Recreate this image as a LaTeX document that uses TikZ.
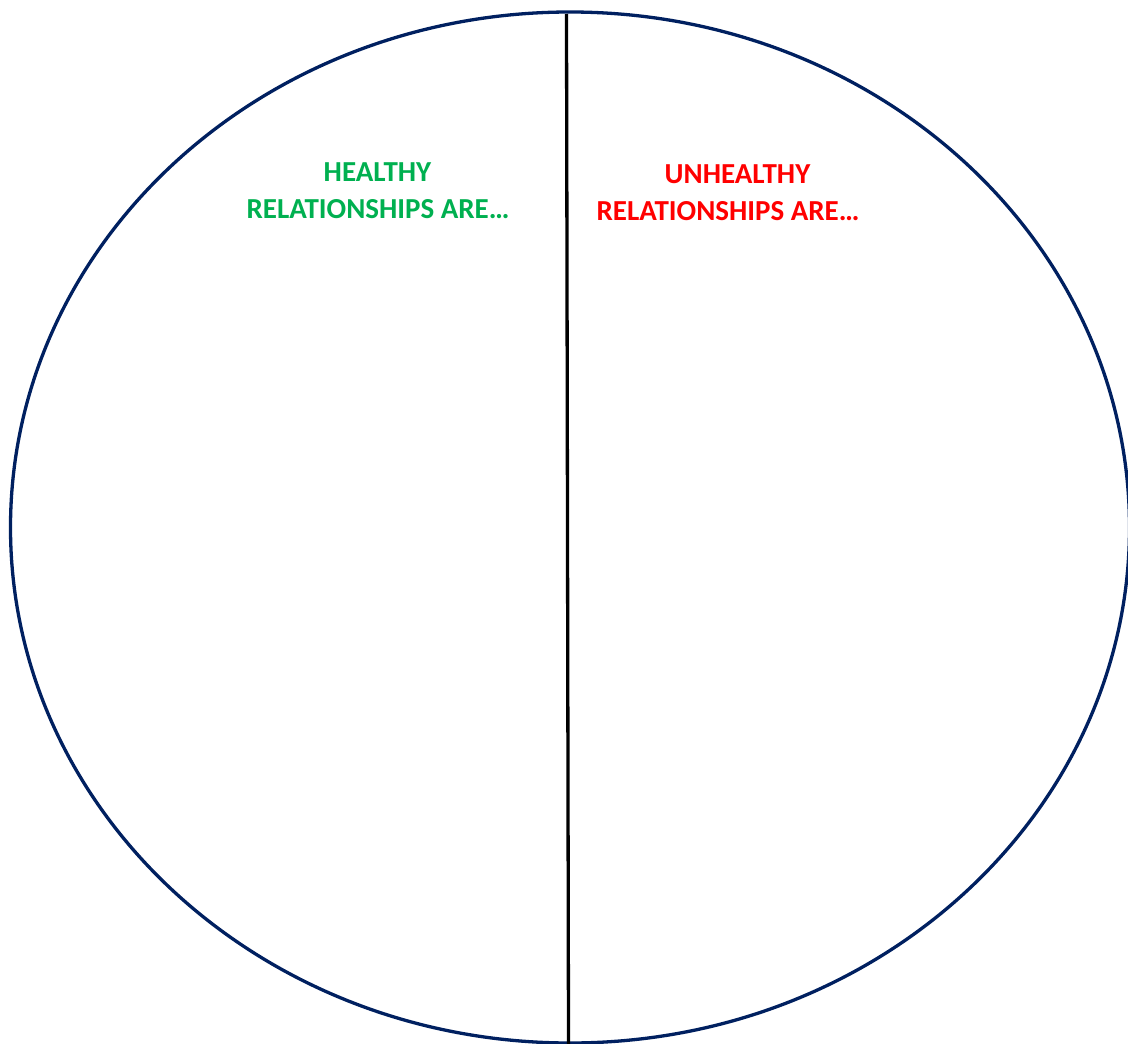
\documentclass[tikz,border=0pt]{standalone}
\usepackage{fontspec}
\setmainfont{Carlito}
\definecolor{ringblue}{RGB}{0,32,96}
\definecolor{goodgreen}{RGB}{0,176,80}
\definecolor{badred}{RGB}{255,0,0}
\tikzset{
  headtext/.style={font=\fontsize{29}{35}\selectfont\bfseries, inner sep=0pt, anchor=base},
}
\begin{document}
\begin{tikzpicture}[x=1pt,y=-1pt]
\useasboundingbox (0,0) rectangle (1128,1044);
\draw[ringblue, line width=3.3pt] (570,527.5) ellipse [x radius=559.5, y radius=515.5];
\coordinate (top) at (566.5,14);
\coordinate (bot) at (568.5,1044);
\draw[black, line width=3.3pt] (top) -- (bot);
\node[headtext, text=goodgreen] (h1) at (377.5,181) {HEALTHY};
\node[headtext, text=goodgreen] (h2) at (378,218) {RELATIONSHIPS ARE…};
\node[headtext, text=badred] (u1) at (737.5,183) {UNHEALTHY};
\node[headtext, text=badred] (u2) at (728,220) {RELATIONSHIPS ARE…};
\end{tikzpicture}
\end{document}
